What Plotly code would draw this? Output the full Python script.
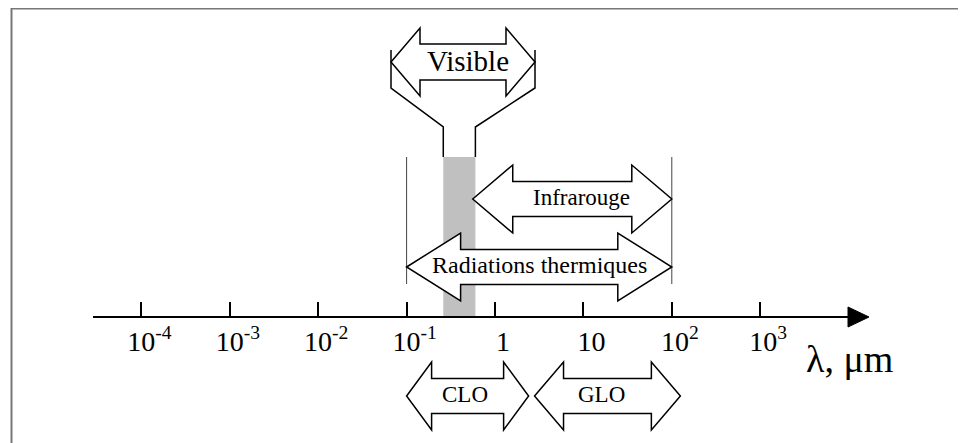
import numpy as np
import plotly.graph_objects as go

# ---------------- data (wavelengths in micrometres) ----------------
tick_values_um = [1e-4, 1e-3, 1e-2, 1e-1, 1, 10, 100, 1000]
tick_labels = ["10<sup>-4</sup>", "10<sup>-3</sup>", "10<sup>-2</sup>", "10<sup>-1</sup>",
               "1", "10", "10<sup>2</sup>", "10<sup>3</sup>"]

band_names = ["Infrarouge", "Radiations thermiques", "CLO", "GLO"]
band_min_um = [0.56, 0.1, 0.1, 2.8]
band_max_um = [100, 100, 2.4, 125]

visible_name = "Visible"
visible_min_um = 0.26
visible_max_um = 0.6

axis_title = "λ, μm"

# ---------------- layout / style ----------------
W, H = 966, 443
PAGE = 8                 # page margin around the plot div (screen px)
ONE_UM_PX = 495.0        # screen column of 1 µm
PX_PER_DECADE = 88.4     # pixels per decade
AXIS_Y = 317
FONT = "Liberation Serif"

def px2x(px):
    return (px - ONE_UM_PX) / PX_PER_DECADE

# per-band arrow styles: y-centre, head length (px), shaft/head half heights, font, text x-shift
band_style = {
    "Infrarouge":            dict(yc=199, head=40, s=17.5, h=34, size=23, dx=9),
    "Radiations thermiques": dict(yc=267, head=54, s=17.5, h=34, size=24, dx=0),
    "CLO":                   dict(yc=396, head=25, s=17.5, h=34, size=23, dx=-3),
    "GLO":                   dict(yc=396, head=29, s=17.5, h=34, size=23, dx=-6),
}

def arrow_path(x0, x1, yc, L, s, h):
    pts = [(x0, yc), (x0 + L, yc - h), (x0 + L, yc - s), (x1 - L, yc - s), (x1 - L, yc - h),
           (x1, yc), (x1 - L, yc + h), (x1 - L, yc + s), (x0 + L, yc + s), (x0 + L, yc + h)]
    return "M " + " L ".join(f"{x:.5f},{y:.3f}" for x, y in pts) + " Z"

fig = go.Figure()
shapes = []
annotations = []

LINE = dict(color="black", width=1.5)

# grey visible band
vx0, vx1 = np.log10(visible_min_um), np.log10(visible_max_um)
shapes.append(dict(type="rect", xref="x", yref="y", x0=vx0, x1=vx1, y0=157, y1=AXIS_Y,
                   fillcolor="#c0c0c0", line=dict(width=0), layer="below"))

# thin limit lines of the thermal radiation band
for v in (band_min_um[1], band_max_um[1]):
    shapes.append(dict(type="line", xref="x", yref="y", x0=np.log10(v), x1=np.log10(v),
                       y0=157, y1=284, line=dict(color="#444444", width=1)))

# funnel from the grey band up to the "Visible" arrow
vis_left_px, vis_right_px = 391, 535
fig.add_trace(go.Scatter(
    x=[vx0, vx0, px2x(vis_left_px), px2x(vis_left_px), None,
       vx1, vx1, px2x(vis_right_px), px2x(vis_right_px)],
    y=[157, 127, 88, 50, None, 157, 127, 88, 50],
    mode="lines", line=dict(color="black", width=1.5), hoverinfo="skip", showlegend=False))

# "Visible" arrow
shapes.append(dict(type="path", xref="x", yref="y",
                   path=arrow_path(px2x(vis_left_px), px2x(vis_right_px), 62, 29 / PX_PER_DECADE, 18, 34),
                   line=LINE, fillcolor="rgba(0,0,0,0)"))
annotations.append(dict(x=px2x(468), y=61, xref="x", yref="y", text=visible_name, showarrow=False,
                        font=dict(family=FONT, size=29, color="black"), yanchor="middle"))

# band arrows
for name, lo, hi in zip(band_names, band_min_um, band_max_um):
    st = band_style[name]
    x0, x1 = np.log10(lo), np.log10(hi)
    shapes.append(dict(type="path", xref="x", yref="y",
                       path=arrow_path(x0, x1, st["yc"], st["head"] / PX_PER_DECADE, st["s"], st["h"]),
                       line=LINE, fillcolor="white"))
    annotations.append(dict(x=(x0 + x1) / 2, y=st["yc"] - 2, xref="x", yref="y", text=name,
                            showarrow=False, xshift=st["dx"],
                            font=dict(family=FONT, size=st["size"], color="black"), yanchor="middle"))

# axis line and arrow head
shapes.append(dict(type="line", xref="x", yref="y", x0=px2x(93), x1=px2x(850), y0=AXIS_Y, y1=AXIS_Y,
                   line=dict(color="black", width=2)))
shapes.append(dict(type="path", xref="x", yref="y",
                   path=f"M {px2x(848):.5f},{AXIS_Y-10} L {px2x(869):.5f},{AXIS_Y} L {px2x(848):.5f},{AXIS_Y+10} Z",
                   line=dict(color="black", width=1), fillcolor="black"))

# axis title
annotations.append(dict(x=px2x(804), y=359, xref="x", yref="y", text=axis_title, showarrow=False,
                        xanchor="left", yanchor="middle",
                        font=dict(family=FONT, size=38, color="black")))

# frame (top and left edges only visible)
fx = (11.5 - PAGE) / W
fy = 1 - 0.5 / H
shapes.append(dict(type="path", xref="paper", yref="paper",
                   path=f"M {fx},-0.05 L {fx},{fy} L 1.05,{fy}",
                   line=dict(color="#777777", width=2)))

fig.update_layout(
    width=W, height=H,
    margin=dict(l=0, r=0, t=0, b=0),
    paper_bgcolor="white", plot_bgcolor="white",
    showlegend=False,
    shapes=shapes, annotations=annotations,
    xaxis=dict(range=[px2x(PAGE), px2x(PAGE + W)], domain=[0, 1],
               showgrid=False, zeroline=False, showline=False,
               tickmode="array", tickvals=list(np.log10(tick_values_um)), ticktext=tick_labels,
               ticks="inside", ticklen=15, tickwidth=1.5, tickcolor="black",
               anchor="free", position=1 - (AXIS_Y - PAGE) / H,
               tickfont=dict(family=FONT, size=28, color="black"),
               ticklabelshift=8, ticklabelstandoff=5),
    yaxis=dict(range=[PAGE + H, PAGE], visible=False, showgrid=False, zeroline=False),
)

fig.write_html("out.html")
